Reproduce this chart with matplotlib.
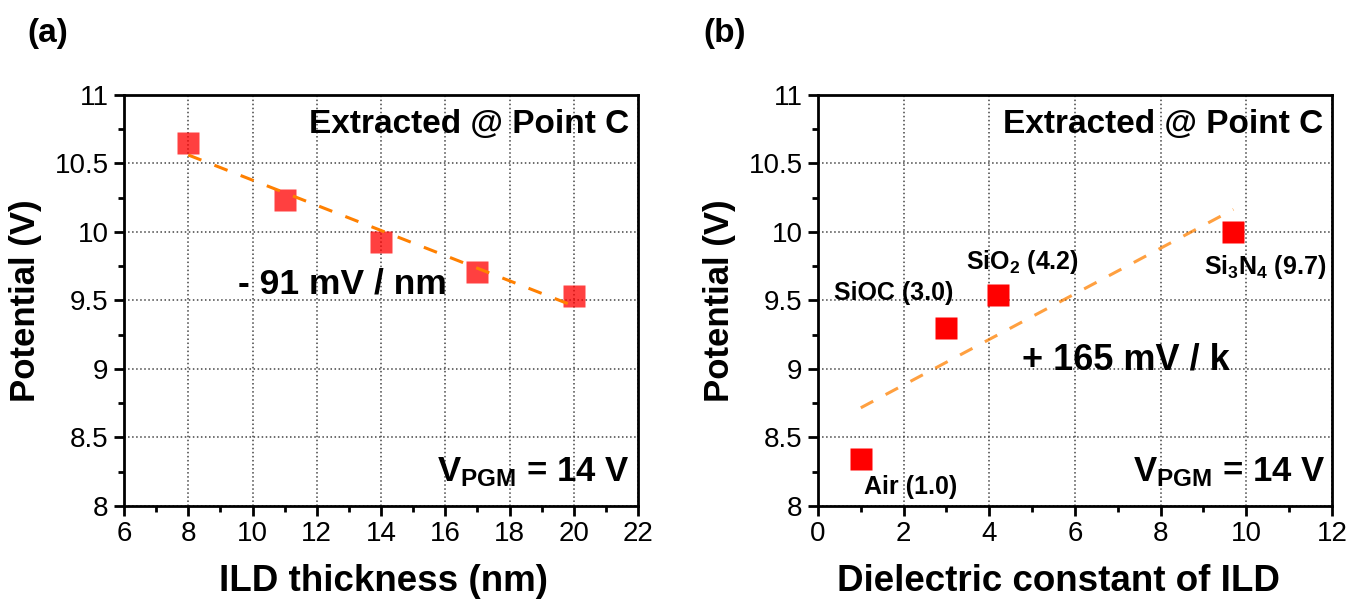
import numpy as np
import matplotlib
matplotlib.use("Agg")
import matplotlib.pyplot as plt
from matplotlib.ticker import MultipleLocator

plt.rcParams['font.family'] = ['Liberation Sans', 'DejaVu Sans']
plt.rcParams['mathtext.fontset'] = 'custom'
plt.rcParams['mathtext.rm'] = 'Liberation Sans'
plt.rcParams['mathtext.bf'] = 'Liberation Sans:bold'
plt.rcParams['mathtext.default'] = 'bf'

# (a) potential vs ILD thickness
thickness = [8, 11, 14, 17, 20]
potential_a = [10.65, 10.235, 9.925, 9.71, 9.535]

# (b) potential vs dielectric constant
k_values = [1.0, 3.0, 4.2, 9.7]
potential_b = [8.34, 9.30, 9.54, 10.0]
materials = ['Air (1.0)', 'SiOC (3.0)', 'SiO$_2$ (4.2)', 'Si$_3$N$_4$ (9.7)']
label_pos = [(1.07, 8.085), (0.38, 9.505), (3.46, 9.73), (9.02, 9.69)]

fig = plt.figure(figsize=(13.48, 6.03), dpi=100)
ax1 = fig.add_axes([0.092, 0.1609, 0.3813, 0.6816])
ax2 = fig.add_axes([0.6068, 0.1609, 0.3813, 0.6816])


def style_axis(ax):
    ax.set_ylim(8, 11)
    ax.yaxis.set_minor_locator(MultipleLocator(0.25))
    ax.set_yticks([8, 8.5, 9, 9.5, 10, 10.5, 11])
    ax.set_yticklabels(['8', '8.5', '9', '9.5', '10', '10.5', '11'])
    ax.xaxis.set_major_locator(MultipleLocator(2))
    ax.xaxis.set_minor_locator(MultipleLocator(1))
    ax.tick_params(which='major', direction='out', length=7, width=2, labelsize=20, pad=4)
    ax.tick_params(which='minor', direction='out', length=4, width=2)
    for s in ax.spines.values():
        s.set_linewidth(2)
    ax.grid(True, which='major', linestyle=':', color='#444444', linewidth=1.1)
    ax.set_axisbelow(True)
    ax.set_ylabel('Potential (V)', fontsize=25, fontweight='bold')
    ax.yaxis.set_label_coords(-0.16, 0.5)


# Panel (a)
style_axis(ax1)
ax1.set_xlim(6, 22)
fit_a = np.polyfit(thickness, potential_a, 1)
xa = np.array([thickness[0], thickness[-1]])
ax1.plot(xa, np.polyval(fit_a, xa), color='#ff8000', lw=2.2, dashes=(4.6, 4.6), zorder=3)
ax1.plot(thickness, potential_a, 's', color='red', alpha=0.75, ms=15.5, mec='none', zorder=2)
ax1.set_xlabel('ILD thickness (nm)', fontsize=26.5, fontweight='bold')
ax1.xaxis.set_label_coords(0.505, -0.14)
ax1.text(0.983, 0.907, 'Extracted @ Point C', transform=ax1.transAxes, ha='right', va='baseline',
         fontsize=24, fontweight='bold')
ax1.text(0.221, 0.518, '- 91 mV / nm', transform=ax1.transAxes, ha='left', va='baseline',
         fontsize=25.5, fontweight='bold')
ax1.text(0.983, 0.061, r'V$_{PGM}$ = 14 V', transform=ax1.transAxes, ha='right', va='baseline',
         fontsize=25, fontweight='bold')
fig.text(0.02, 0.945, '(a)', fontsize=24, fontweight='bold', va='center')

# Panel (b)
style_axis(ax2)
ax2.set_xlim(0, 12)
fit_b = np.polyfit(k_values, potential_b, 1)
xb = np.array([k_values[0], k_values[-1]])
ax2.plot(xb, np.polyval(fit_b, xb), color='#ff8000', alpha=0.75, lw=2.2, dashes=(4.6, 4.6), zorder=3)
ax2.plot(k_values, potential_b, 's', color='red', ms=15.5, mec='none', zorder=2)
for name, (tx, ty) in zip(materials, label_pos):
    ax2.text(tx, ty, name, fontsize=18, fontweight='bold', ha='left', va='baseline')
ax2.set_xlabel('Dielectric constant of ILD', fontsize=26.5, fontweight='bold')
ax2.xaxis.set_label_coords(0.467, -0.14)
ax2.text(0.983, 0.907, 'Extracted @ Point C', transform=ax2.transAxes, ha='right', va='baseline',
         fontsize=24, fontweight='bold')
ax2.text(0.396, 0.332, '+ 165 mV / k', transform=ax2.transAxes, ha='left', va='baseline',
         fontsize=26, fontweight='bold')
ax2.text(0.987, 0.061, r'V$_{PGM}$ = 14 V', transform=ax2.transAxes, ha='right', va='baseline',
         fontsize=25, fontweight='bold')
fig.text(0.5215, 0.945, '(b)', fontsize=24, fontweight='bold', va='center')

fig.savefig('out.png', dpi=100)
